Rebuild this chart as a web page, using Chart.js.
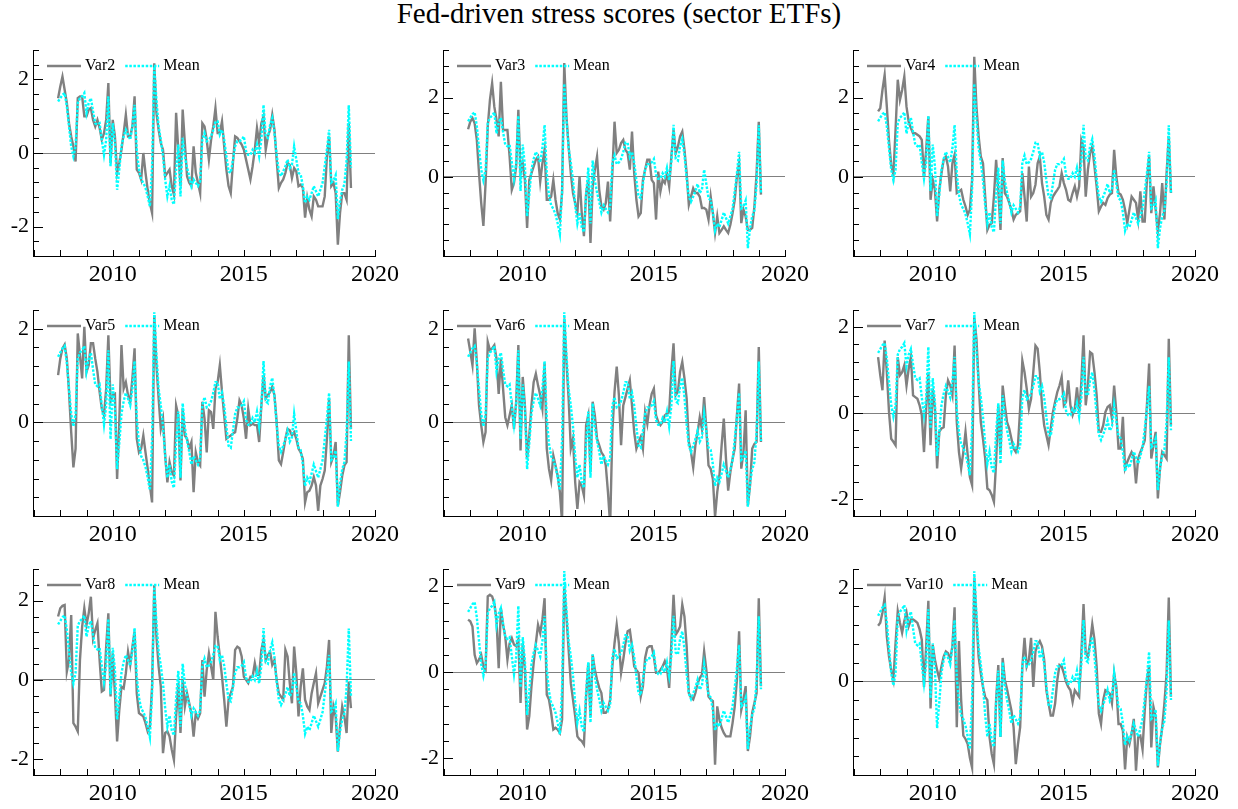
<!DOCTYPE html>
<html>
<head>
<meta charset="utf-8">
<title>Fed-driven stress scores</title>
<script src="https://cdn.jsdelivr.net/npm/chart.js@4.4.1/dist/chart.umd.min.js"></script>
<style>
  html, body { margin: 0; padding: 0; background: #fff; }
  body { position: relative; width: 1238px; height: 809px; overflow: hidden; }
  #title {
    position: absolute; left: 0; top: -1px; width: 1238px;
    text-align: center; font: 29px/29px "Liberation Serif", "Times New Roman", serif; color: #000;
  }
  canvas { position: absolute; }
</style>
</head>
<body>
<div id="title">Fed-driven stress scores (sector ETFs)</div>

<script>
// monthly sample, Dec 2007 .. Feb 2019
const startYear = 2007, startMonth = 12, nObs = 135;

const mean = [
  1.40, 1.49, 1.58, 1.63, 1.27, 0.72, 0.18, -0.09, 0.18, 1.36,
  1.49, 1.54, 1.63, 1.09, 1.36, 1.49, 1.13, 0.81, 0.77, 0.81,
  0.36, -0.05, 0.36, 1.54, -0.36, 0.81, 0.27, -1.00, -0.45, 0.18,
  0.45, 0.63, 0.50, 0.36, 0.72, 1.31, 0.09, -0.45, -0.72, -0.81,
  -0.95, -1.18, -1.45, -0.36, 2.35, 1.45, 0.72, 0.36, -0.09, -0.72,
  -1.18, -0.90, -1.27, -1.40, -0.45, 0.23, -1.18, 0.41, -0.10, -0.40,
  -0.63, -0.90, -0.72, -0.81, -0.90, -0.77, 0.36, 0.54, 0.32, 0.36,
  0.45, 0.63, 0.86, 0.86, 0.50, 0.63, 0.36, -0.09, -0.50, -0.54,
  -0.18, 0.18, 0.32, 0.32, 0.36, 0.45, 0.05, -0.05, -0.05, 0.09,
  0.00, 0.23, -0.09, 0.36, 1.31, 0.45, 0.41, 0.77, 0.95, 0.54,
  -0.05, -0.50, -0.63, -0.50, -0.36, -0.18, -0.41, -0.32, 0.18, -0.18,
  -0.54, -0.59, -0.90, -1.36, -1.18, -1.27, -1.09, -0.90, -1.04, -1.18,
  -1.00, -0.81, -0.36, 0.09, 0.63, -0.80, -0.75, -0.60, -1.80, -1.30,
  -1.00, -0.85, -0.20, 1.30, -0.40
];

const var2 = [
  1.49, 1.81, 2.08, 1.72, 1.36, 0.81, 0.45, 0.18, -0.23, 1.49,
  1.54, 1.54, 1.00, 1.00, 1.18, 1.22, 0.90, 0.72, 0.90, 0.68,
  0.36, 0.54, 0.90, 1.90, -0.27, 0.90, 0.45, -0.54, -0.27, 0.09,
  0.54, 1.04, 0.45, 0.45, 0.72, 1.54, -0.45, -0.54, -0.72, 0.00,
  -0.54, -1.00, -1.36, -1.63, 2.44, 1.09, 0.63, 0.27, 0.09, -0.63,
  -0.54, -0.45, -0.90, -1.13, 1.09, 0.09, -0.90, 1.18, 0.27, -0.63,
  -0.81, -0.90, 0.18, -0.54, -0.81, -1.09, 0.81, 0.72, 0.36, -0.18,
  0.36, 0.72, 1.22, 0.54, 0.54, 0.86, 0.18, -0.45, -0.90, -1.09,
  -0.27, 0.45, 0.41, 0.32, 0.23, 0.09, -0.18, -0.45, -0.72, -0.36,
  0.09, 0.68, 0.27, 0.81, 1.00, 0.09, 0.45, 0.63, 1.04, 0.63,
  -0.18, -0.95, -0.81, -0.72, -0.54, -0.27, -0.32, -0.68, -0.41, -0.50,
  -0.90, -0.86, -0.95, -1.76, -1.22, -1.54, -1.72, -1.18, -1.27, -1.45,
  -1.45, -1.45, -1.18, -0.09, 0.45, -0.90, -0.81, -1.09, -2.49, -1.63,
  -1.09, -1.09, -1.27, 0.81, -0.95
];

const var3 = [
  1.20, 1.39, 1.48, 1.35, 0.93, 0.09, -0.66, -1.24, -0.16, 1.27,
  1.94, 2.36, 1.77, 1.44, 1.02, 2.40, 1.18, 1.18, 1.18, 0.51,
  -0.33, -0.16, 0.26, 1.69, 0.09, 0.34, -0.08, -1.29, -0.08, 0.09,
  0.26, 0.43, 0.51, -0.12, 0.34, 0.68, -0.58, -0.58, -0.50, -0.08,
  -0.58, -0.92, -1.08, -0.41, 2.87, 1.52, 0.76, 0.09, -0.41, -0.66,
  -0.92, 0.01, -0.92, -1.50, -0.41, -0.08, -1.67, -0.24, 0.18, 0.51,
  -0.33, -0.75, -0.83, -0.66, -0.12, -1.13, 0.09, 1.39, 0.60, 0.68,
  0.85, 0.93, 0.68, 0.60, 0.18, 1.14, 0.09, -0.58, -1.00, -0.92,
  -0.08, 0.18, 0.43, 0.43, -0.08, -0.16, -1.08, 0.13, -0.37, -0.08,
  -0.16, 0.09, -0.24, 0.51, 1.18, 0.60, 0.76, 1.02, 1.14, 0.68,
  0.09, -0.71, -0.50, -0.29, -0.41, -0.41, -0.50, -0.79, -0.79, -0.83,
  -1.08, -0.50, -0.92, -1.42, -1.00, -1.42, -1.34, -1.25, -1.34, -1.42,
  -1.21, -0.92, -0.58, 0.01, 0.34, -1.17, -0.83, -1.00, -1.34, -1.34,
  -1.29, -0.75, 0.09, 1.39, -0.45
];

const var4 = [
  1.65, 1.73, 2.19, 2.57, 1.77, 0.90, 0.30, 0.05, 1.20, 2.45,
  1.94, 2.19, 2.53, 1.77, 1.39, 1.23, 1.10, 1.10, 1.06, 1.02,
  0.93, 0.01, 0.68, 1.52, -0.58, -0.08, -0.33, -1.13, -0.33, 0.09,
  0.43, 0.51, 0.26, -0.37, 0.34, 0.55, -0.41, -0.37, -0.33, -0.58,
  -0.75, -0.96, -0.83, -0.08, 3.03, 1.77, 1.02, 0.51, 0.34, -0.50,
  -1.34, -1.21, -1.17, -0.50, 0.43, -0.33, -1.34, 0.47, -0.41, -0.50,
  -0.66, -0.83, -1.08, -0.96, -0.92, -0.87, 0.09, -0.50, -1.13, 0.26,
  -0.50, -0.41, -0.20, 0.34, 0.51, -0.16, -0.50, -0.96, -1.08, -0.66,
  -0.50, -0.41, -0.33, -0.24, 0.09, -0.16, -0.33, -0.58, -0.62, -0.41,
  -0.24, -0.50, -0.24, 0.93, 0.76, -0.50, 0.18, 0.60, 0.76, 0.26,
  -0.24, -0.87, -0.75, -0.66, -0.71, -0.54, -0.45, -0.41, 0.68, 0.01,
  -0.41, -0.45, -0.58, -0.83, -1.17, -0.83, -0.50, -0.58, -0.66, -1.08,
  -0.37, -1.13, -1.13, -0.08, 0.51, -0.92, -0.24, -0.83, -1.38, -0.92,
  -0.16, -1.08, 0.09, 1.02, -0.41
];

const var5 = [
  1.01, 1.36, 1.58, 1.66, 1.36, 0.65, -0.21, -0.96, -0.56, 1.90,
  1.44, 0.94, 2.04, 1.08, 1.22, 1.69, 1.69, 1.36, 1.08, 0.65,
  0.29, 0.15, 0.72, 1.86, 0.44, 0.58, 0.61, -1.21, 0.01, 1.65,
  0.72, 0.86, 0.58, 0.44, 0.94, 1.58, -0.35, -0.64, -0.56, -0.28,
  -0.64, -0.99, -1.35, -1.71, 2.29, 1.22, 0.51, -0.14, 0.08, -0.71,
  -1.28, -0.85, -1.06, -1.14, 0.36, 0.15, -1.24, 0.29, -0.28, -0.35,
  -0.56, -0.42, -1.49, -0.64, -0.85, -0.92, 0.44, 0.08, -0.64, 0.26,
  0.22, -0.14, 0.72, 0.86, 1.22, 0.65, 0.15, -0.35, -0.31, -0.28,
  -0.24, -0.21, 0.08, 0.47, 0.36, 0.08, -0.35, 0.29, -0.06, -0.03,
  -0.06, -0.06, -0.42, 0.36, 1.01, 0.51, 0.58, 0.65, 0.76, 0.58,
  0.01, -0.81, -0.89, -0.64, -0.35, -0.14, -0.17, -0.28, -0.21, -0.35,
  -0.56, -0.64, -0.78, -1.71, -1.49, -1.46, -1.35, -1.17, -1.35, -1.89,
  -1.35, -1.21, -1.03, -0.35, 0.51, -0.85, -0.71, -0.42, -1.78, -1.49,
  -1.14, -0.92, -0.85, 1.86, -0.14
];

const var6 = [
  1.79, 1.51, 1.22, 2.01, 1.29, 0.36, -0.06, -0.42, -0.21, 1.72,
  1.54, 1.58, 1.65, 1.36, 0.61, 1.36, 0.72, 0.11, -0.06, 0.15,
  0.36, -0.14, 0.44, 1.65, -0.60, 0.97, 0.36, -0.78, -0.28, 0.36,
  0.86, 1.04, 0.79, 0.58, 0.29, 1.26, -0.56, -0.99, -1.24, -0.71,
  -0.92, -1.14, -1.49, -2.14, 2.22, 1.29, 0.51, -0.56, -0.35, -1.28,
  -1.85, -1.28, -1.35, -1.56, -0.06, 0.15, -1.06, 0.44, 0.15, -0.35,
  -0.49, -0.64, -0.71, -0.92, -1.49, -2.20, -0.21, 0.65, 1.19, 0.58,
  -0.49, 0.36, 0.54, 0.72, 0.90, 0.36, -0.21, -0.56, -0.42, -0.31,
  -0.56, 0.22, -0.03, 0.36, 0.61, 0.72, 0.15, 0.01, -0.06, 0.01,
  0.15, 0.19, 0.22, 1.08, 1.69, 0.58, 0.65, 1.08, 1.29, 0.94,
  0.51, -0.42, -0.64, -0.96, -0.49, -0.21, 0.11, -0.14, 0.54, -0.14,
  -0.92, -0.99, -1.21, -2.02, -1.49, -1.14, -0.49, 0.08, -0.78, -1.46,
  -1.06, -0.78, -0.56, 0.15, 0.83, -0.99, -0.64, 0.26, -1.78, -1.35,
  -0.56, -0.46, -0.42, 1.61, -0.42
];

const var7 = [
  1.30, 0.88, 0.53, 1.69, 0.95, 0.02, -0.60, -0.67, -0.75, 1.30,
  0.88, 0.95, 1.11, 0.64, 1.03, 1.30, 0.41, 0.37, 0.33, 0.18,
  -0.05, -0.91, 0.10, 0.95, -0.75, 0.57, 0.10, -1.29, -0.44, -0.36,
  -0.33, 0.41, 0.76, 0.64, 0.41, 1.57, -0.21, -0.91, -1.29, -0.91,
  -0.44, -0.98, -1.49, -1.68, 2.23, 1.73, 0.72, -0.21, -0.60, -1.06,
  -1.76, -1.80, -1.91, -2.07, -1.14, 0.18, -0.98, 0.64, 0.18, -0.21,
  -0.36, -0.60, -0.83, -0.91, -0.75, 0.10, 1.22, 0.95, 0.57, 0.10,
  0.33, 0.95, 1.57, 1.50, 0.95, 0.18, -0.29, -0.52, -0.75, -0.36,
  0.02, 0.26, 0.49, 0.64, 0.84, 0.18, 0.26, 0.76, 0.18, -0.05,
  0.10, 0.60, 0.02, 0.72, 1.81, 0.18, 0.64, 1.42, 1.38, 0.95,
  0.41, -0.44, -0.44, -0.29, 0.02, 0.14, 0.18, -0.13, 0.64, 0.02,
  -0.83, -0.83, -0.09, -1.29, -1.14, -1.02, -0.91, -1.02, -1.64, -1.06,
  -0.91, -0.79, -0.64, 0.18, 1.15, -1.06, -0.75, -0.44, -1.99, -1.29,
  -0.91, -0.98, -1.06, 1.73, -0.29
];

const var8 = [
  1.60, 1.81, 1.87, 1.89, 0.21, 0.50, 1.64, -1.09, -1.18, -1.30,
  0.50, 1.34, 1.81, 1.39, 1.68, 2.10, 1.05, 1.26, 1.43, 0.50,
  -0.29, -0.25, 0.84, 1.68, -0.42, 0.67, -0.34, -1.55, -0.76, -0.17,
  -0.21, 0.17, 0.71, 0.38, 0.84, 1.22, -0.34, -0.84, -0.88, -0.92,
  -1.09, -1.30, -1.18, -0.17, 2.39, 1.09, 0.34, -0.17, -1.85, -1.34,
  -1.30, -1.43, -1.76, -2.02, -0.92, -0.08, -1.34, 0.00, -0.67, -0.34,
  -0.59, -0.84, -1.43, -0.84, -0.97, -0.84, 0.50, -0.42, 0.25, 0.67,
  0.34, 0.00, 1.72, 1.09, 0.59, 0.08, -0.50, -1.18, -0.50, -0.34,
  -0.17, 0.76, 0.84, 0.80, 0.59, 0.08, 0.00, -0.08, 0.08, 0.08,
  0.42, 0.13, 0.13, 0.76, 1.01, 0.50, 0.63, 0.71, 0.38, 0.50,
  0.00, -0.34, -0.42, -0.50, 0.76, 0.59, -0.08, -0.59, 0.84, 0.17,
  -0.92, -0.17, 0.29, -0.50, -0.67, -0.76, -0.34, -0.08, 0.17, -0.59,
  -0.42, -0.25, -0.08, 0.34, 1.01, -1.34, -0.67, -0.92, -1.81, -1.18,
  -0.67, -0.92, -1.34, -0.04, -0.71
];

const var9 = [
  1.22, 1.18, 1.06, 0.40, 0.21, 0.29, 0.40, 0.13, 0.05, 1.76,
  1.80, 1.76, 1.60, 1.22, 0.09, 1.49, 1.10, 0.83, 0.29, 0.67,
  0.79, 0.64, 0.60, 0.75, -0.72, 0.67, 0.05, -1.34, -1.03, -0.33,
  0.21, 0.67, 1.10, 0.91, 1.22, 1.72, -0.53, -0.64, -0.95, -1.34,
  -1.30, -1.34, -1.42, -1.11, 1.99, 1.29, 0.52, -0.26, -0.64, -1.03,
  -1.50, -1.57, -1.61, -1.69, -0.57, 0.21, -1.03, 0.40, 0.05, -0.18,
  -0.37, -0.49, -0.95, -0.95, -0.88, -0.64, 0.13, 0.67, 1.10, 0.67,
  -0.02, 0.29, 0.67, 0.95, 0.98, 0.60, 0.13, 0.05, -0.02, -0.57,
  -0.33, 0.33, 0.56, 0.60, 0.60, 0.36, -0.02, -0.02, 0.05, 0.13,
  0.25, 0.09, -0.37, 0.67, 1.80, 0.87, 0.95, 1.06, 1.57, 1.29,
  0.60, -0.49, -0.60, -0.64, -0.49, -0.26, -0.14, -0.06, 0.48, 0.05,
  -0.57, -0.64, -0.68, -2.16, -0.80, -1.11, -1.30, -1.42, -1.50, -1.50,
  -1.50, -1.19, -0.80, -0.18, 0.95, -0.88, -0.64, -0.33, -1.84, -1.50,
  -0.95, -0.72, -0.49, 1.72, -0.33
];

const var10 = [
  1.19, 1.25, 1.47, 1.79, 0.96, 0.53, 0.24, 0.03, 0.82, 1.50,
  1.25, 1.04, 1.29, 1.47, 1.18, 1.32, 1.32, 1.29, 1.25, 1.11,
  0.89, -0.12, 0.75, 1.72, -0.58, 0.78, 0.46, 0.24, 0.06, 0.32,
  0.53, 0.64, 0.60, 0.46, 0.75, 1.58, -0.98, 0.86, -0.40, -1.16,
  -1.23, -1.34, -1.63, -1.84, 2.22, 1.32, 0.53, 0.17, -0.12, -0.33,
  -0.40, -1.19, -1.55, -1.77, -0.40, 0.35, -1.19, 0.50, 0.03, -0.17,
  -0.40, -0.62, -0.98, -1.77, -1.34, -0.98, 0.32, 0.93, 0.32, 0.46,
  0.93, -0.12, 0.64, 0.78, 0.86, 0.75, 0.46, -0.19, -0.47, -0.73,
  -0.73, -0.47, 0.03, 0.35, 0.32, 0.17, -0.01, -0.12, -0.19, -0.44,
  -0.19, -0.26, -0.33, 0.60, 1.65, 0.60, 0.53, 0.82, 1.22, 0.89,
  0.32, -0.69, -0.91, -0.40, -0.19, -0.22, -0.26, -0.47, 0.17, -0.12,
  -0.91, -0.91, -1.05, -1.88, -1.19, -1.34, -1.12, -0.80, -1.91, -1.19,
  -1.16, -1.45, -0.62, 0.03, 0.32, -1.41, -0.55, -0.76, -1.84, -1.34,
  -0.98, -0.47, 0.17, 1.79, -0.33
];

// one panel per sector series, with its own y range
const panelNames = ['Var2', 'Var3', 'Var4', 'Var5', 'Var6', 'Var7', 'Var8', 'Var9', 'Var10'];
const panelSeries = [var2, var3, var4, var5, var6, var7, var8, var9, var10];
const yMins = [-2.8, -2.0, -2.0, -2.0, -2.0, -2.4, -2.4, -2.4, -2.0];
const yMaxs = [2.8, 3.2, 3.2, 2.4, 2.4, 2.4, 2.8, 2.4, 2.4];
const xMin = 2006.96, xMax = 2020;

// decimal dates for the monthly observations
const dates = [];
for (let i = 0; i < nObs; i++) {
  dates.push(startYear + (startMonth - 1 + i) / 12);
}

const serif = '"Liberation Serif", "Times New Roman", serif';
const rowTops = [40, 300, 559];

// inward tick marks plus the small legend in the top-left corner
const oxAxes = {
  id: 'oxAxes',
  afterDraw(chart) {
    const { ctx, chartArea: a, scales: { x, y } } = chart;
    ctx.save();
    ctx.strokeStyle = '#000';
    ctx.lineWidth = 1;
    ctx.beginPath();
    const n = Math.round((y.max - y.min) / 0.4);
    for (let k = 0; k <= n; k++) {
      const v = y.min + k * 0.4;
      const py = Math.round(y.getPixelForValue(v)) + 0.5;
      const major = Math.abs(v / 2 - Math.round(v / 2)) < 1e-6;
      ctx.moveTo(a.left, py);
      ctx.lineTo(a.left + (major ? 10 : 6), py);
    }
    for (let yr = Math.ceil(x.min); yr <= x.max; yr++) {
      const px = Math.round(x.getPixelForValue(yr)) + 0.5;
      ctx.moveTo(px, a.bottom);
      ctx.lineTo(px, a.bottom - 6);
    }
    ctx.stroke();

    // legend
    let lx = a.left + 14;
    const ly = a.top + 16;
    ctx.font = '16px ' + serif;
    ctx.textBaseline = 'middle';
    ctx.textAlign = 'left';
    chart.data.datasets.forEach(ds => {
      ctx.strokeStyle = ds.borderColor;
      ctx.lineWidth = ds.borderWidth;
      ctx.setLineDash(ds.borderDash || []);
      ctx.beginPath();
      ctx.moveTo(lx, ly);
      ctx.lineTo(lx + 34, ly);
      ctx.stroke();
      ctx.setLineDash([]);
      ctx.fillStyle = '#000';
      ctx.fillText(ds.label, lx + 38, ly);
      lx += 38 + ctx.measureText(ds.label).width + 10;
    });
    ctx.restore();
  }
};

// labels only on multiples of 2, and never at the bottom end of the axis
function yLabel(v) {
  if (Math.abs(v - this.min) < 1e-6) return '';
  return Math.abs(v / 2 - Math.round(v / 2)) < 1e-6 ? String(Math.round(v)) : '';
}

panelNames.forEach((name, k) => {
  const canvas = document.createElement('canvas');
  canvas.width = 410;
  canvas.height = 260;
  canvas.style.left = (k % 3) * 410 + 'px';
  canvas.style.top = rowTops[Math.floor(k / 3)] + 'px';
  document.body.appendChild(canvas);

  new Chart(canvas, {
    type: 'line',
    data: {
      labels: dates,
      datasets: [{
        label: name,
        data: panelSeries[k].map((v, i) => ({ x: dates[i], y: v })),
        borderColor: '#808080',
        borderWidth: 2.4,
        pointRadius: 0,
        tension: 0,
        order: 2
      }, {
        label: 'Mean',
        data: mean.map((v, i) => ({ x: dates[i], y: v })),
        borderColor: '#00ffff',
        borderWidth: 2.4,
        borderDash: [2.5, 1.6],
        pointRadius: 0,
        tension: 0,
        order: 1
      }]
    },
    options: {
      responsive: false,
      animation: false,
      events: [],
      layout: { padding: { left: 0, top: 10, right: 35, bottom: 0 } },
      plugins: {
        legend: { display: false },
        title: { display: false },
        tooltip: { enabled: false }
      },
      scales: {
        x: {
          type: 'linear',
          min: xMin,
          max: xMax,
          border: { display: true, color: '#000', width: 1 },
          grid: { display: false, drawTicks: false },
          ticks: {
            stepSize: 1,
            autoSkip: false,
            maxRotation: 0,
            padding: 4,
            color: '#000',
            font: { family: serif, size: 24 },
            callback: v => (Math.abs(v % 5) < 1e-6 ? String(Math.round(v)) : '')
          },
          afterFit: s => { s.height = 44; s.paddingLeft = 0; s.paddingRight = 0; }
        },
        y: {
          min: yMins[k],
          max: yMaxs[k],
          border: { display: true, color: '#000', width: 1 },
          grid: {
            drawTicks: false,
            lineWidth: 1,
            color: c => (Math.abs(c.tick.value) < 1e-9 ? '#808080' : 'rgba(0,0,0,0)')
          },
          ticks: {
            stepSize: 0.4,
            autoSkip: false,
            padding: 4,
            color: '#000',
            font: { family: serif, size: 22 },
            callback: yLabel
          },
          afterFit: s => { s.width = 33; s.paddingTop = 0; s.paddingBottom = 0; }
        }
      }
    },
    plugins: [oxAxes]
  });
});
</script>
</body>
</html>
